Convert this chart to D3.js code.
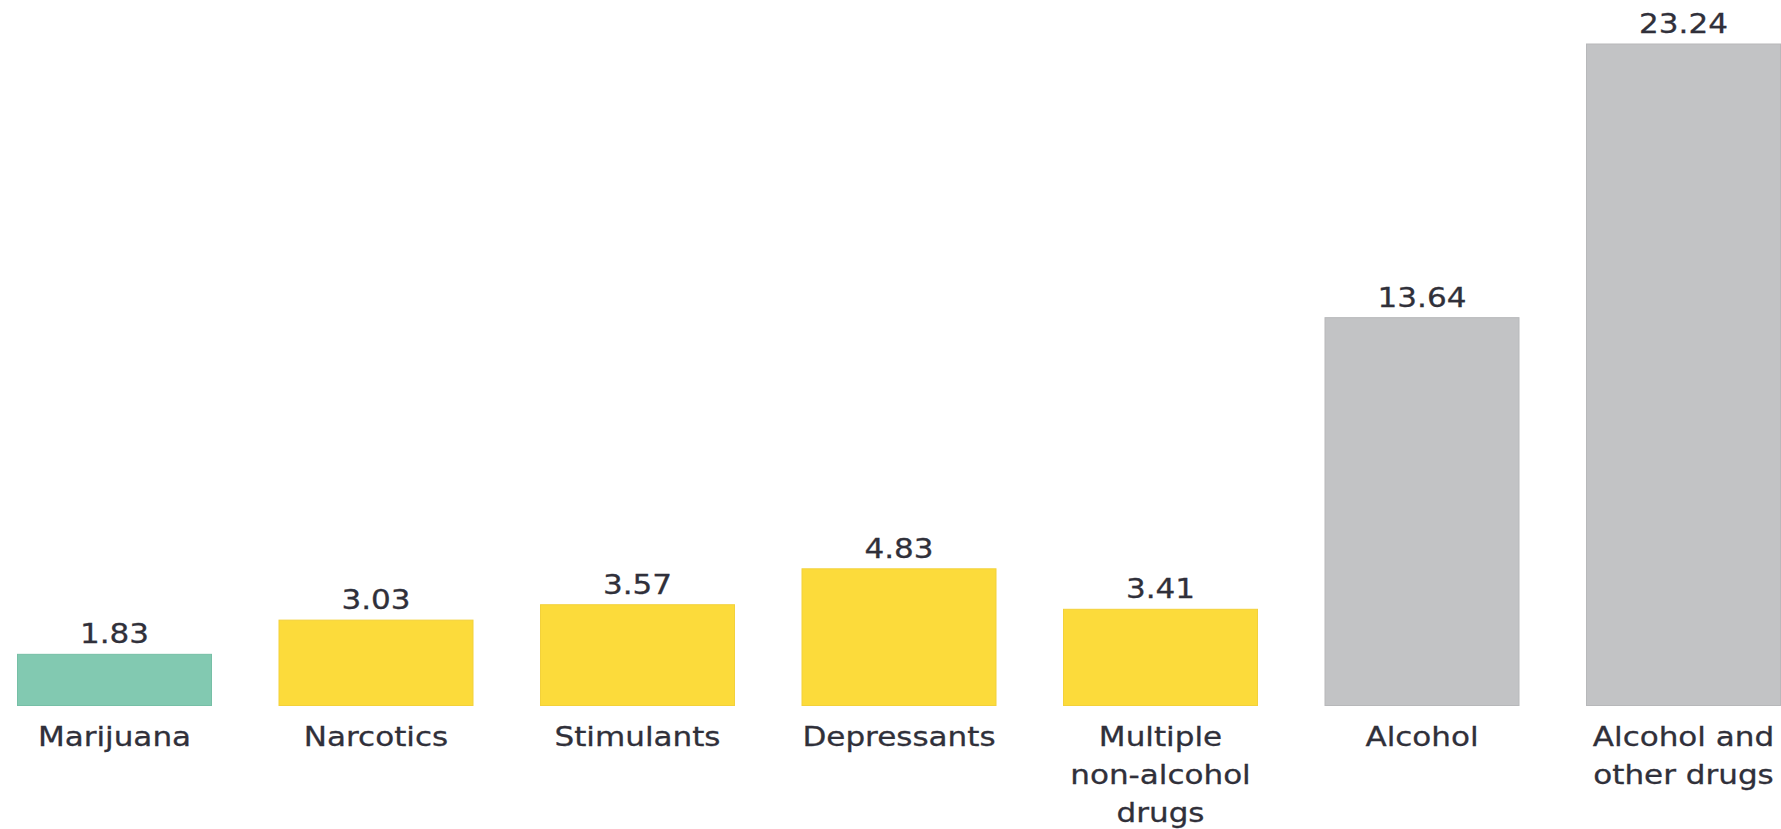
<!DOCTYPE html>
<html>
<head>
<meta charset="utf-8">
<script src="https://cdn.jsdelivr.net/npm/d3@7"></script>
<style>
  html, body { margin: 0; padding: 0; background: #fff; }
  svg { display: block; }
  text { font-family: "DejaVu Sans", sans-serif; fill: #30303a; }
</style>
</head>
<body>
<svg id="chart" width="1781" height="829"></svg>
<script>
const categories = ["Marijuana", "Narcotics", "Stimulants", "Depressants", "Multiple non-alcohol drugs", "Alcohol", "Alcohol and other drugs"];
const labelLines = [["Marijuana"], ["Narcotics"], ["Stimulants"], ["Depressants"], ["Multiple", "non-alcohol", "drugs"], ["Alcohol"], ["Alcohol and", "other drugs"]];
const values = [1.83, 3.03, 3.57, 4.83, 3.41, 13.64, 23.24];
const groups = ["marijuana", "drug", "drug", "drug", "drug", "alcohol", "alcohol"];

const fillColor = {marijuana: "#82c9b1", drug: "#fcdb3b", alcohol: "#c2c3c5"};
const strokeColor = {marijuana: "#76bfa6", drug: "#f3d13a", alcohol: "#b7b8ba"};

const svg = d3.select("#chart");
const x = d3.scaleBand().domain(categories).range([17, 1781]).paddingInner(66.5 / 261.5).paddingOuter(0);
const y = d3.scaleLinear().domain([0, 23.24]).range([706, 43.5]);

const data = categories.map((c, i) => ({c, v: values[i], g: groups[i], lines: labelLines[i]}));
const sx = 1.15;

svg.selectAll("rect.bar").data(data).enter().append("rect")
  .attr("class", "bar")
  .attr("x", d => x(d.c) + 0.5)
  .attr("y", d => y(d.v) + 0.5)
  .attr("width", x.bandwidth() - 1)
  .attr("height", d => y(0) - y(d.v) - 1)
  .attr("fill", d => fillColor[d.g])
  .attr("stroke", d => strokeColor[d.g])
  .attr("stroke-width", 1);

svg.selectAll("g.val").data(data).enter().append("g")
  .attr("class", "val")
  .attr("transform", d => `translate(${x(d.c) + x.bandwidth() / 2},${y(d.v) - 10.5}) scale(${sx},1)`)
  .append("text")
  .attr("text-anchor", "middle")
  .attr("font-size", 27)
  .attr("stroke", "#30303a")
  .attr("stroke-width", 0.3)
  .text(d => d.v.toFixed(2));

const cat = svg.selectAll("g.cat").data(data).enter().append("g")
  .attr("class", "cat")
  .attr("transform", d => `translate(${x(d.c) + x.bandwidth() / 2},745.5) scale(${sx},1)`);
cat.each(function(d) {
  const t = d3.select(this).append("text").attr("text-anchor", "middle").attr("font-size", 27)
    .attr("stroke", "#30303a").attr("stroke-width", 0.3);
  d.lines.forEach((ln, i) => {
    t.append("tspan").attr("x", 0).attr("y", i * 38.5).text(ln);
  });
});
</script>
</body>
</html>
